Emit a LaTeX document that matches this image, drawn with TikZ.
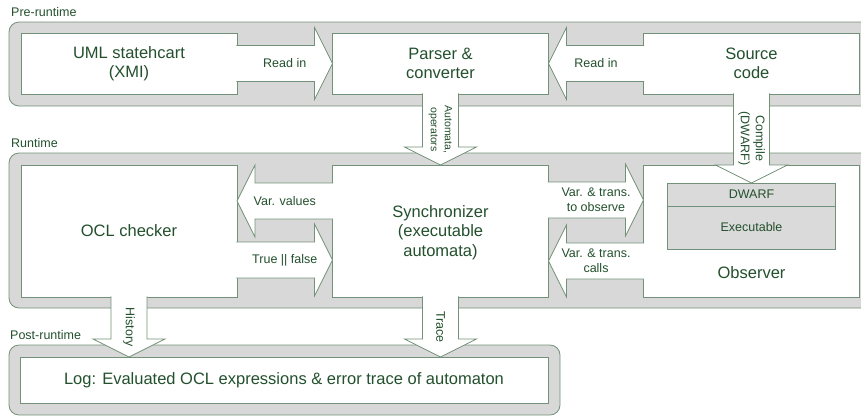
\documentclass[tikz,border=0pt]{standalone}
\usepackage{fontspec}
\setmainfont{Liberation Sans}
\usetikzlibrary{calc}

\definecolor{edgegreen}{RGB}{115,145,120}
\definecolor{textgreen}{RGB}{35,80,45}
\definecolor{groupgray}{RGB}{216,216,216}
\definecolor{layergray}{RGB}{218,218,218}

\newcommand\labelbig{\fontsize{16.5}{19.5}\selectfont}
\newcommand\labelsmall{\fontsize{12.5}{15}\selectfont}
\newcommand\labeltiny{\fontsize{10.5}{14}\selectfont}

% block arrow from #1 to tip #2, shaft joined to the box at #1
\newcommand\blockarr[2]{%
  \coordinate (ba-s) at ($(#1)!-0.6pt!(#2)$);
  \coordinate (ba-h) at ($(#2)!18pt!(#1)$);
  \filldraw[blockarrow] ($(ba-s)!18pt!90:(#2)$) -- ($(ba-h)!18pt!90:(#2)$)
    -- ($(ba-h)!36pt!90:(#2)$) -- (#2) -- ($(ba-h)!36pt!-90:(#2)$)
    -- ($(ba-h)!18pt!-90:(#2)$) -- ($(ba-s)!18pt!-90:(#2)$);
}

\begin{document}
\begin{tikzpicture}[x=1pt,y=-1pt]
    % Define styles for groups, boxes and arrows
    \tikzstyle{group}=[rectangle, draw=edgegreen, fill=groupgray, rounded corners=10pt, line width=0.8pt, inner sep=0pt, outer sep=0pt]
    \tikzstyle{box}=[rectangle, draw=edgegreen, fill=white, line width=0.8pt, minimum width=216pt, inner sep=0pt, outer sep=0pt, text=textgreen, font=\labelbig, align=center]
    \tikzstyle{layer}=[rectangle, draw=edgegreen, fill=layergray, line width=0.8pt, minimum width=168pt, inner sep=0pt, outer sep=0pt, text=textgreen, font=\labelsmall]
    \tikzstyle{blockarrow}=[draw=edgegreen, fill=white, line width=0.8pt, line join=miter]
    \tikzstyle{small}=[inner sep=0pt, text=textgreen, font=\labelsmall, align=center]
    \tikzstyle{tiny}=[inner sep=0pt, text=textgreen, font=\labeltiny, align=center]

    \useasboundingbox (0,0) rectangle (861,416);
    \clip (0,0) rectangle (861,416);

    % Groups
    \node[group, minimum width=880pt, minimum height=84pt] (pre) at (449,64) {};
    \node[group, minimum width=880pt, minimum height=155pt] (run) at (449,230.5) {};
    \node[group, minimum width=551pt, minimum height=70pt] (post) at (284.5,380) {};
    \node[small, anchor=west] (prelabel) at (11,12) {Pre-runtime};
    \node[small, anchor=west] (runlabel) at (11,143) {Runtime};
    \node[small, anchor=west] (postlabel) at (10,335) {Post-runtime};

    % Pre-runtime boxes
    \node[box, minimum height=61pt] (uml) at (129,63.5) {UML statehcart\\(XMI)};
    \node[box, minimum height=61pt] (parser) at (440.5,63.5) {Parser \&\\converter};
    \node[box, minimum height=61pt] (source) at (751.5,63.5) {Source\\code};

    % Runtime boxes
    \node[box, minimum height=132pt] (ocl) at (129,231) {OCL checker};
    \node[box, minimum height=132pt, text depth=0pt] (sync) at (440.5,231) {Synchronizer\\(executable\\automata)};
    \node[box, minimum height=132pt] (observer) at (751.5,231) {};
    \node[small, font=\labelbig] (obslabel) at ([yshift=24pt]observer.south) {Observer};
    \node[layer, minimum height=23pt] (dwarf) at (751.5,194.5) {DWARF};
    \node[layer, minimum height=43pt, anchor=north] (exec) at (dwarf.south) {Executable};

    % Post-runtime box
    \node[box, minimum width=528pt, minimum height=46.5pt] (log) at (284,380.25) {Log: Evaluated OCL expressions \& error trace of automaton};

    % Arrow ends
    \coordinate (vv-s) at ([yshift=30pt]sync.west);
    \coordinate (vv-t) at ([yshift=30pt]ocl.east);
    \coordinate (tf-s) at ([yshift=-29pt]ocl.east);
    \coordinate (tf-t) at ([yshift=-29pt]sync.west);
    \coordinate (ob-s) at ([yshift=31pt]sync.east);
    \coordinate (ob-t) at ([yshift=31pt]observer.west);
    \coordinate (ca-s) at ([yshift=-30pt]observer.west);
    \coordinate (ca-t) at ([yshift=-30pt]sync.east);
    \coordinate (au-t) at (parser.south |- sync.north);
    \coordinate (co-t) at (source.south |- dwarf.north);
    \coordinate (hi-t) at (ocl.south |- log.north);
    \coordinate (tr-t) at (sync.south |- log.north);

    % Block arrows
    \blockarr{uml.east}{parser.west}
    \blockarr{source.west}{parser.east}
    \blockarr{parser.south}{au-t}
    \blockarr{source.south}{co-t}
    \blockarr{vv-s}{vv-t}
    \blockarr{tf-s}{tf-t}
    \blockarr{ob-s}{ob-t}
    \blockarr{ca-s}{ca-t}
    \blockarr{ocl.south}{hi-t}
    \blockarr{sync.south}{tr-t}

    % Arrow labels
    \node[small] (readleft) at ($(uml.east)!0.5!(parser.west)$) {Read in};
    \node[small] (readright) at ($(parser.east)!0.5!(source.west)$) {Read in};
    \node[small] (varvalues) at ($(vv-s)!0.5!(vv-t)$) {Var. values};
    \node[small] (truefalse) at ($(tf-s)!0.5!(tf-t)$) {True || false};
    \node[small] (toobserve) at ($(ob-s)!0.5!(ob-t)$) {Var. \& trans.\\to observe};
    \node[small] (calls) at ($(ca-s)!0.5!(ca-t)$) {Var. \& trans.\\calls};
    \node[tiny, rotate=-90] (automata) at ($(parser.south)!0.5!(au-t)$) {Automata,\\operators};
    \node[small, rotate=-90] (compile) at ($(source.south)!0.5!(co-t)$) {Compile\\(DWARF)};
    \node[small, rotate=-90] (history) at ($(ocl.south)!0.5!(hi-t)$) {History};
    \node[small, rotate=-90] (trace) at ($(sync.south)!0.5!(tr-t)$) {Trace};
\end{tikzpicture}
\end{document}
